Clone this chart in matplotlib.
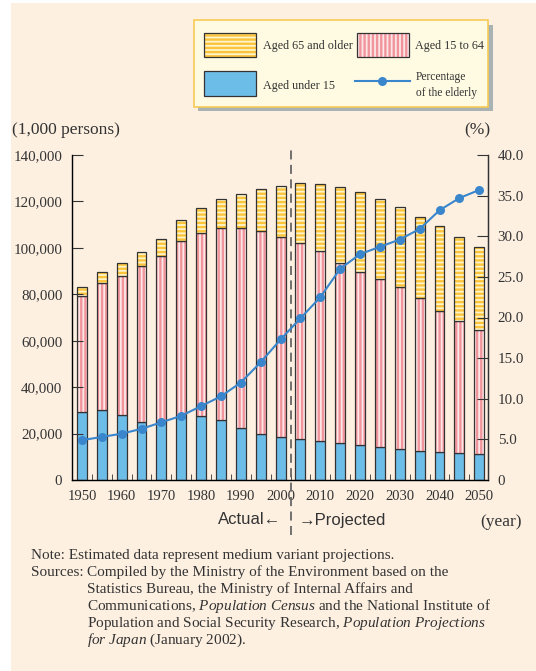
import matplotlib
matplotlib.use("Agg")
import matplotlib.pyplot as plt
from matplotlib.patches import Rectangle
from matplotlib.lines import Line2D

plt.rcParams["font.family"] = ["Liberation Serif", "DejaVu Serif"]
plt.rcParams["mathtext.fontset"] = "custom"
plt.rcParams["mathtext.rm"] = "Liberation Serif"
plt.rcParams["mathtext.it"] = "Liberation Serif:italic"
plt.rcParams["hatch.linewidth"] = 1.7

years = list(range(1950, 2055, 5))
under15 = [29430, 30120, 28070, 25170, 24820, 27220, 27510, 26030, 22490, 20010, 18470,
           17500, 16900, 16100, 15100, 14100, 13200, 12600, 12100, 11500, 11100]
age15_64 = [49660, 54730, 60000, 66930, 71570, 75810, 78840, 82510, 85900, 87170, 86220,
            84700, 81900, 77500, 74500, 72300, 69800, 65900, 60800, 57100, 53500]
age65 = [4110, 4750, 5350, 6180, 7330, 8870, 10650, 12470, 14900, 18260, 22000,
         25600, 28700, 32800, 34600, 34800, 34500, 34900, 36400, 36200, 35900]
elderly_pct = [4.9, 5.3, 5.7, 6.3, 7.1, 7.9, 9.1, 10.3, 12.0, 14.5, 17.3,
               19.9, 22.5, 26.0, 27.8, 28.7, 29.6, 30.9, 33.2, 34.7, 35.7]
year_labels = list(range(1950, 2060, 10))

TXT = "#333333"
BLUE = "#6dbde9"
PINK_BG = "#fde6e6"
PINK = "#f0959c"
YEL_BG = "#fff5cc"
YEL = "#fbc43a"
LINE = "#3a86cc"
W, H = 536, 671

fig = plt.figure(figsize=(W / 100, H / 100), dpi=100, facecolor="white")

# background / annotation layer in pixel coordinates
bg = fig.add_axes([0, 0, 1, 1], zorder=-1)
bg.set_xlim(0, W)
bg.set_ylim(H, 0)
bg.axis("off")
bg.add_patch(Rectangle((11, 3), W - 11, H - 3, facecolor="#fdf0e1", edgecolor="none"))

ax = fig.add_axes([72 / W, 1 - 480 / H, (488 - 72) / W, 325 / H])
ax.set_facecolor("none")
bw = 2.5
bottom2 = [a + b for a, b in zip(under15, age15_64)]
ax.bar(years, under15, bw, color=BLUE, edgecolor=TXT, linewidth=0.9)
ax.bar(years, age15_64, bw, bottom=under15, color=PINK_BG, edgecolor=PINK, hatch="||||", linewidth=0)
ax.bar(years, age15_64, bw, bottom=under15, fill=False, edgecolor=TXT, linewidth=0.9)
ax.bar(years, age65, bw, bottom=bottom2, color=YEL_BG, edgecolor=YEL, hatch="----", linewidth=0)
ax.bar(years, age65, bw, bottom=bottom2, fill=False, edgecolor=TXT, linewidth=0.9)

ax.axvline(2002.5, ymin=-0.17, ymax=1.015, clip_on=False, color="#666666",
           linewidth=1.3, dashes=(5, 3))

ax.set_xlim(1947.5, 2052.2)
ax.set_ylim(0, 140000)
ax.set_yticks(range(0, 140001, 20000))
ax.set_yticklabels(["0"] + [f"{v:,}" for v in range(20000, 140001, 20000)])
ax.set_xticks(year_labels)
ax.set_xticks([y + 2.5 for y in years[:-1]], minor=True)
ax.tick_params(axis="x", which="major", length=0, pad=7, labelsize=10.5, colors=TXT)
ax.tick_params(axis="x", which="minor", length=4, direction="in", color=TXT)
ax.tick_params(axis="y", length=8, direction="in", pad=7, labelsize=10.8, colors=TXT)
ax.spines["top"].set_visible(False)
for s in ["left", "right", "bottom"]:
    ax.spines[s].set_color(TXT)
    ax.spines[s].set_linewidth(1.0)

ax2 = ax.twinx()
ax2.plot(years, elderly_pct, color=LINE, linewidth=1.5, marker="o", markersize=6.5,
         markeredgewidth=0)
ax2.set_ylim(0, 40)
ax2.set_yticks(range(0, 41, 5))
ax2.set_yticklabels(["0"] + [f"{v:.1f}" for v in range(5, 41, 5)])
ax2.tick_params(axis="y", length=8, direction="in", pad=7, labelsize=10.8, colors=TXT)
ax2.spines["top"].set_visible(False)
ax2.spines["right"].set_color(TXT)
ax2.set_xlim(1947.5, 2052.2)

# axis titles
bg.text(12, 130, "(1,000 persons)", fontsize=12.5, color=TXT, va="center", ha="left")
bg.text(490, 130, "(%)", fontsize=12.5, color=TXT, va="center", ha="right")
bg.text(522, 522, "(year)", fontsize=12.5, color=TXT, va="center", ha="right")
bg.text(281, 520, "Actual\u2190", fontsize=12, color=TXT, va="center", ha="right",
        family=["Liberation Sans", "DejaVu Sans"])
bg.text(299, 520, "\u2192Projected", fontsize=12, color=TXT, va="center", ha="left",
        family=["Liberation Sans", "DejaVu Sans"])

# legend box
bg.add_patch(Rectangle((198, 25), 295, 86, facecolor="#a9b3b3", edgecolor="none"))
bg.add_patch(Rectangle((194, 20), 294, 87, facecolor="#fffbe2", edgecolor="#f7ca55", linewidth=1.2))
bg.add_patch(Rectangle((204, 33), 52, 24, facecolor=YEL_BG, edgecolor=YEL, hatch="----", linewidth=0))
bg.add_patch(Rectangle((204, 33), 52, 24, fill=False, edgecolor=TXT, linewidth=0.9))
bg.add_patch(Rectangle((357, 33), 52, 24, facecolor=PINK_BG, edgecolor=PINK, hatch="||||", linewidth=0))
bg.add_patch(Rectangle((357, 33), 52, 24, fill=False, edgecolor=TXT, linewidth=0.9))
bg.add_patch(Rectangle((204, 71), 52, 25, facecolor=BLUE, edgecolor=TXT, linewidth=0.9))
bg.add_line(Line2D([355, 410], [81, 81], color=LINE, linewidth=1.5))
bg.plot([382], [81], marker="o", color=LINE, markersize=6.5, markeredgewidth=0)
bg.text(263, 46, "Aged 65 and older", fontsize=8.7, color=TXT, va="center")
bg.text(415, 46, "Aged 15 to 64", fontsize=8.7, color=TXT, va="center")
bg.text(263, 86, "Aged under 15", fontsize=8.7, color=TXT, va="center")
bg.text(416, 77, "Percentage", fontsize=8.3, color=TXT, va="center")
bg.text(416, 93, "of the elderly", fontsize=8.3, color=TXT, va="center")

# notes
fs = 11
bg.text(31, 555, "Note: Estimated data represent medium variant projections.", fontsize=fs, color=TXT, va="center")
bg.text(31, 572, "Sources:", fontsize=fs, color=TXT, va="center")
bg.text(87, 572, "Compiled by the Ministry of the Environment based on the", fontsize=fs, color=TXT, va="center")
bg.text(87, 589, "Statistics Bureau, the Ministry of Internal Affairs and", fontsize=fs, color=TXT, va="center")
bg.text(87, 606, r"Communications, $\mathit{Population\ Census}$ and the National Institute of",
        fontsize=fs, color=TXT, va="center")
bg.text(87, 623, r"Population and Social Security Research, $\mathit{Population\ Projections}$",
        fontsize=fs, color=TXT, va="center")
bg.text(87, 640, r"$\mathit{for\ Japan}$ (January 2002).", fontsize=fs, color=TXT, va="center")

fig.savefig("out.png", dpi=100, facecolor="white")
